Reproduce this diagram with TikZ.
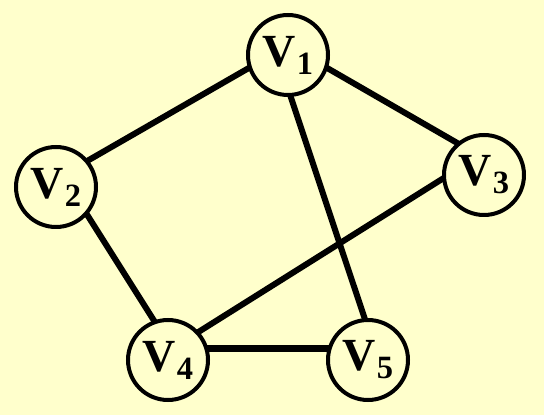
\documentclass[tikz,border=0pt]{standalone}
\usepackage{fontspec}
\setmainfont{Liberation Serif}
\definecolor{bg}{HTML}{FFFFCC}
\newcommand{\vlab}[1]{V\kern1pt\raisebox{-8pt}{\scalebox{1.25}{\fontsize{26}{26}\selectfont\bfseries #1}}}
\begin{document}
\begin{tikzpicture}[x=1pt,y=1pt,
  vtx/.style={circle,draw=black,line width=4pt,fill=bg,minimum size=80pt,inner sep=0pt,outer sep=0pt,font=\fontsize{46}{46}\selectfont\bfseries},
  edge/.style={line width=6pt}]
\fill[bg] (0,0) rectangle (544,415);
\useasboundingbox (0,0) rectangle (544,415);
\node[vtx] (V1) at (288,360) {\vlab{1}};
\node[vtx] (V2) at (56,228) {\vlab{2}};
\node[vtx] (V3) at (484,240) {\vlab{3}};
\node[vtx] (V4) at (168,55) {\vlab{4}};
\node[vtx] (V5) at (368,55) {\vlab{5}};
\draw[edge] (V1.198) -- (V2.40);
\draw[edge] (V1.342) -- (V3.129);
\draw[edge] (V1.273) -- (V5.94);
\draw[edge] (V2.319) -- (V4.109);
\draw[edge] (V3.184) -- (V4.43);
\draw[edge,line width=7.5pt] (V4.17) -- (V5.163);
\end{tikzpicture}
\end{document}
